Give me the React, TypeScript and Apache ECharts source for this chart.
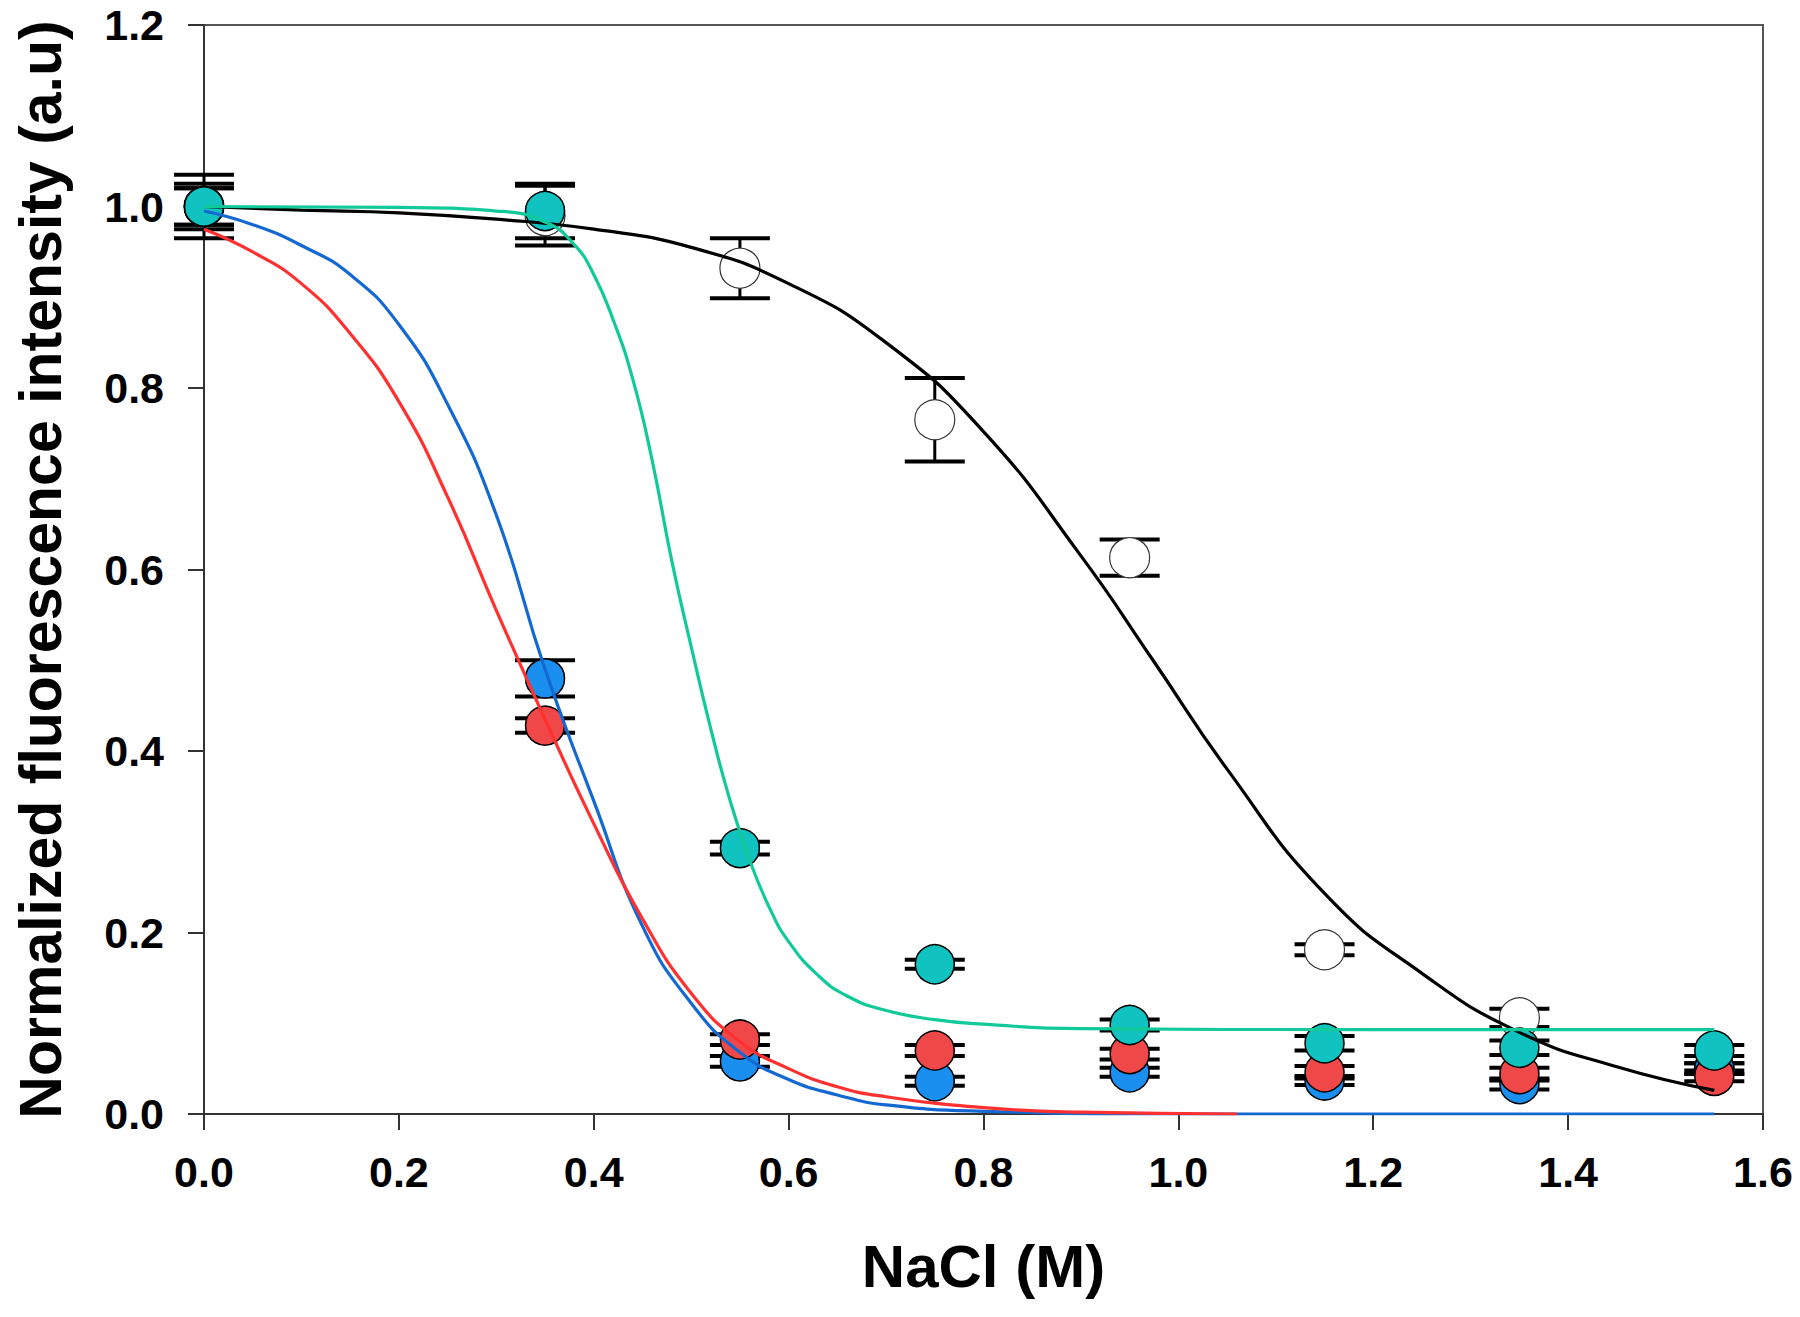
import React, { useEffect, useRef } from "react";
import * as echarts from "echarts";

// ---- measured data (NaCl concentration, M) ----
const xPoints = [0, 0.35, 0.55, 0.75, 0.95, 1.15, 1.35, 1.55];

const blackY = [1.0, 0.99, 0.932, 0.765, 0.613, 0.181, 0.106, 0.05];
const blackErr = [0.035, 0.033, 0.033, 0.046, 0.02, 0.006, 0.01, 0.006];

const blueY = [1.0, 0.48, 0.058, 0.036, 0.046, 0.037, 0.033, 0.05];
const blueErr = [0.02, 0.02, 0.006, 0.005, 0.005, 0.005, 0.006, 0.006];

const redY = [1.0, 0.428, 0.082, 0.07, 0.066, 0.046, 0.044, 0.042];
const redErr = [0.02, 0.008, 0.006, 0.006, 0.006, 0.007, 0.007, 0.006];

const cyanY = [1.0, 0.995, 0.293, 0.165, 0.098, 0.078, 0.073, 0.07];
const cyanErr = [0.025, 0.03, 0.007, 0.005, 0.006, 0.008, 0.008, 0.006];

// ---- fitted curves ----
const blackCurveX = [0, 0.1, 0.2, 0.3, 0.4, 0.5, 0.6, 0.7, 0.8, 0.9, 0.974, 1.05, 1.15, 1.25, 1.35, 1.45, 1.55];
const blackCurveY = [1.0, 0.996, 0.993, 0.986, 0.975, 0.955, 0.915, 0.85, 0.752, 0.615, 0.5, 0.38, 0.243, 0.155, 0.09, 0.052, 0.026];

const cyanCurveX = [0, 0.2, 0.3, 0.35, 0.38, 0.4, 0.42, 0.44, 0.46, 0.48, 0.5, 0.52, 0.54, 0.56, 0.58, 0.6, 0.63, 0.66, 0.7, 0.75, 0.8, 0.9, 1.2, 1.55];
const cyanCurveY = [1.0, 0.999, 0.995, 0.983, 0.958, 0.925, 0.875, 0.81, 0.72, 0.61, 0.515, 0.425, 0.345, 0.28, 0.228, 0.19, 0.153, 0.13, 0.114, 0.104, 0.099, 0.094, 0.093, 0.093];

const blueCurveX = [0, 0.05, 0.1, 0.15, 0.2, 0.25, 0.3, 0.35, 0.4, 0.45, 0.5, 0.55, 0.6, 0.65, 0.7, 0.8, 1.0, 1.55];
const blueCurveY = [0.995, 0.98, 0.957, 0.925, 0.87, 0.782, 0.66, 0.49, 0.345, 0.207, 0.122, 0.068, 0.038, 0.021, 0.01, 0.003, 0.0, 0.0];

const redCurveX = [0, 0.05, 0.1, 0.15, 0.2, 0.25, 0.3, 0.35, 0.4, 0.45, 0.5, 0.55, 0.6, 0.65, 0.7, 0.8, 0.9, 1.06];
const redCurveY = [0.975, 0.95, 0.915, 0.86, 0.785, 0.68, 0.555, 0.435, 0.32, 0.215, 0.133, 0.08, 0.05, 0.03, 0.019, 0.007, 0.002, 0.0];

const xTicks = { min: 0, max: 1.6, interval: 0.2 };
const yTicks = { min: 0, max: 1.2, interval: 0.2 };

const FONT = "'Liberation Sans', Arial, sans-serif";

function pairs(xs: number[], ys: number[]) {
  return xs.map((x, i) => [x, ys[i]]);
}

function errData(ys: number[], errs: number[]) {
  return xPoints.map((x, i) => [x, ys[i] - errs[i], ys[i] + errs[i]]);
}

function errorSeries(name: string, ys: number[], errs: number[]) {
  return {
    name: name + "-err",
    type: "custom",
    data: errData(ys, errs),
    clip: false,
    renderItem: (params: any, api: any) => {
      const x = api.value(0);
      const lo = api.coord([x, api.value(1)]);
      const hi = api.coord([x, api.value(2)]);
      const hw = 30;
      const style = { stroke: "#000", lineWidth: 4 };
      return {
        type: "group",
        children: [
          { type: "line", shape: { x1: lo[0], y1: lo[1], x2: hi[0], y2: hi[1] }, style: { stroke: "#000", lineWidth: 3 } },
          { type: "line", shape: { x1: lo[0] - hw, y1: lo[1], x2: lo[0] + hw, y2: lo[1] }, style },
          { type: "line", shape: { x1: hi[0] - hw, y1: hi[1], x2: hi[0] + hw, y2: hi[1] }, style },
        ],
      };
    },
    z: 2,
  };
}

function scatterSeries(name: string, ys: number[], fill: string, border: string, bw: number, size: number) {
  return {
    name,
    type: "scatter",
    data: pairs(xPoints, ys),
    symbol: "circle",
    symbolSize: size,
    itemStyle: { color: fill, borderColor: border, borderWidth: bw, opacity: 1 },
    z: 3,
  };
}

function curveSeries(name: string, xs: number[], ys: number[], color: string) {
  return {
    name,
    type: "line",
    data: pairs(xs, ys),
    smooth: 0.5,
    symbol: "none",
    lineStyle: { color, width: 3.2 },
    z: 4,
  };
}

export default function App() {
  const ref = useRef<HTMLDivElement>(null);
  useEffect(() => {
    if (!ref.current) return;
    const chart = echarts.init(ref.current, undefined, { renderer: "svg" });
    const axisLabel = {
      fontFamily: FONT,
      fontWeight: "bold",
      fontSize: 43,
      color: "#000",
      formatter: (v: number) => v.toFixed(1),
    };
    chart.setOption({
      animation: false,
      backgroundColor: "#fff",
      grid: {
        left: 204,
        right: 37,
        top: 25,
        bottom: 203,
        show: true,
        borderColor: "#555",
        borderWidth: 2,
        backgroundColor: "transparent",
      },
      xAxis: {
        type: "value",
        min: xTicks.min,
        max: xTicks.max,
        interval: xTicks.interval,
        name: "NaCl (M)",
        nameLocation: "middle",
        nameGap: 122,
        nameTextStyle: { fontFamily: FONT, fontWeight: "bold", fontSize: 60, color: "#000" },
        axisLine: { show: true, lineStyle: { color: "#333", width: 2 } },
        axisTick: { show: true, inside: false, length: 16, lineStyle: { color: "#333", width: 2 } },
        axisLabel: { ...axisLabel, margin: 36 },
        splitLine: { show: false },
      },
      yAxis: {
        type: "value",
        min: yTicks.min,
        max: yTicks.max,
        interval: yTicks.interval,
        name: "Normalized fluorescence intensity (a.u)",
        nameLocation: "middle",
        nameGap: 134,
        nameRotate: 90,
        nameTextStyle: { fontFamily: FONT, fontWeight: "bold", fontSize: 59, color: "#000" },
        axisLine: { show: true, lineStyle: { color: "#333", width: 2 } },
        axisTick: { show: true, inside: false, length: 16, lineStyle: { color: "#333", width: 2 } },
        axisLabel: { ...axisLabel, margin: 40 },
        splitLine: { show: false },
      },
      series: [
        errorSeries("black", blackY, blackErr),
        errorSeries("blue", blueY, blueErr),
        errorSeries("red", redY, redErr),
        errorSeries("cyan", cyanY, cyanErr),
        scatterSeries("black", blackY, "#ffffff", "#333333", 1.2, 40),
        scatterSeries("blue", blueY, "#1a8fef", "#000000", 1.5, 39),
        scatterSeries("red", redY, "#f04848", "#000000", 1.5, 39),
        scatterSeries("cyan", cyanY, "#10c2c0", "#000000", 1.5, 39),
        curveSeries("black-fit", blackCurveX, blackCurveY, "#000000"),
        curveSeries("blue-fit", blueCurveX, blueCurveY, "#1468d2"),
        curveSeries("red-fit", redCurveX, redCurveY, "#ff3030"),
        curveSeries("cyan-fit", cyanCurveX, cyanCurveY, "#12c99a"),
      ],
    });
    return () => chart.dispose();
  }, []);
  return <div ref={ref} style={{ width: 1800, height: 1317, margin: -8 }} />;
}
